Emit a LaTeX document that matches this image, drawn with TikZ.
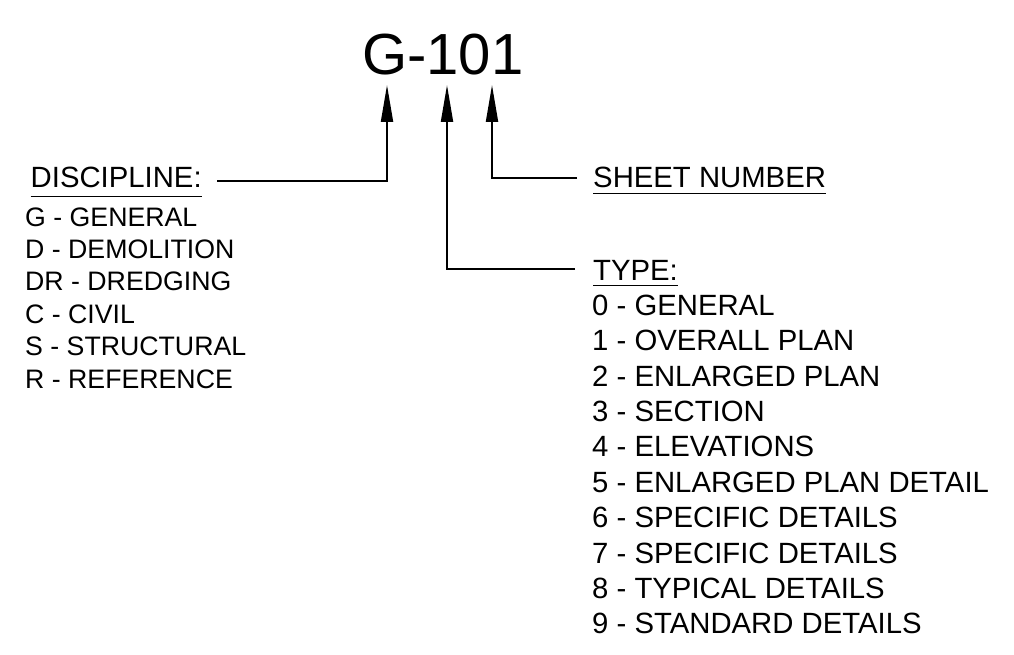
\documentclass[tikz,border=0pt]{standalone}
\usepackage{fontspec}
\setmainfont{Liberation Sans}
\usetikzlibrary{arrows.meta}
\tikzset{
  big/.style={anchor=base west, inner sep=0pt, font=\fontsize{58}{66}\selectfont},
  head/.style={anchor=base west, inner sep=0pt, font=\fontsize{29.3}{35}\selectfont},
  disclist/.style={anchor=base west, inner sep=0pt, font=\fontsize{26.7}{32}\selectfont},
  typelist/.style={anchor=base west, inner sep=0pt, font=\fontsize{29.3}{35}\selectfont},
  conn/.style={line width=2pt, -{Triangle[length=37pt, width=12pt]}},
  uline/.style={line width=1.6pt}
}
\begin{document}
\begin{tikzpicture}[x=1pt, y=-1pt]
\useasboundingbox (0,0) rectangle (1014,655);
% title
\node[big] (title) at (362,75) {G-101};
\coordinate (tipG) at (387,85);
\coordinate (tipT) at (447,85);
\coordinate (tipS) at (492,85);
% headings
\node[head] (disc) at (30.5,188) {DISCIPLINE:};
\node[head] (sheet) at (593,188) {SHEET NUMBER};
\node[head] (type) at (593,280) {TYPE:};
% underlines
\draw[uline] ([yshift=-8.5pt]disc.base west) -- ([yshift=-8.5pt]disc.base east);
\draw[uline] ([yshift=-5.5pt]sheet.base west) -- ([yshift=-5.5pt]sheet.base east);
\draw[uline] ([yshift=-5.5pt]type.base west) -- ([yshift=-5.5pt]type.base east);
% connectors
\draw[conn] ([xshift=15.5pt, yshift=-3.5pt]disc.east) -| (tipG);
\draw[conn] ([xshift=-16pt]sheet.west) -| (tipS);
\draw[conn] ([xshift=-18pt, yshift=1pt]type.west) -| (tipT);
% discipline list
\node[disclist] (d1) at (25,226) {G - GENERAL};
\node[disclist] (d2) at (25,258.4) {D - DEMOLITION};
\node[disclist] (d3) at (25,290.8) {DR - DREDGING};
\node[disclist] (d4) at (25,323.2) {C - CIVIL};
\node[disclist] (d5) at (25,355.6) {S - STRUCTURAL};
\node[disclist] (d6) at (25,388) {R - REFERENCE};
% type list
\node[typelist] (t0) at (592,315.5) {0 - GENERAL};
\node[typelist] (t1) at (592,350.9) {1 - OVERALL PLAN};
\node[typelist] (t2) at (592,386.2) {2 - ENLARGED PLAN};
\node[typelist] (t3) at (592,421.6) {3 - SECTION};
\node[typelist] (t4) at (592,456.9) {4 - ELEVATIONS};
\node[typelist] (t5) at (592,492.3) {5 - ENLARGED PLAN DETAIL};
\node[typelist] (t6) at (592,527.6) {6 - SPECIFIC DETAILS};
\node[typelist] (t7) at (592,563) {7 - SPECIFIC DETAILS};
\node[typelist] (t8) at (592,598.3) {8 - TYPICAL DETAILS};
\node[typelist] (t9) at (592,633.7) {9 - STANDARD DETAILS};
\end{tikzpicture}
\end{document}
